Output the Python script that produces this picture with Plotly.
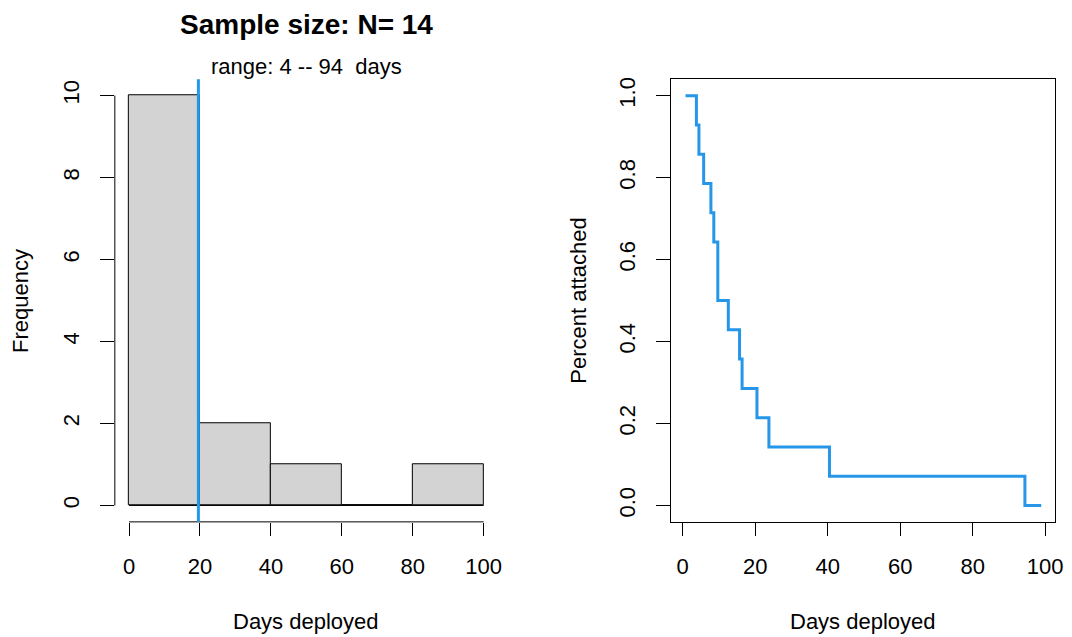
import numpy as np
import plotly.graph_objects as go

# ---- data ----
deploy_days = [3.8, 4.5, 5.8, 7.8, 8.6, 9.7, 9.7, 12.6, 15.7, 16.4, 20.5, 23.8, 40.5, 94.4]
curve_start = 0.8
curve_end = 98.9
bin_edges = [0, 20, 40, 60, 80, 100]
x_ticks = [0, 20, 40, 60, 80, 100]
hist_y_ticks = [0, 2, 4, 6, 8, 10]
surv_y_ticks = [0.0, 0.2, 0.4, 0.6, 0.8, 1.0]
surv_y_labels = ["0.0", "0.2", "0.4", "0.6", "0.8", "1.0"]

n = len(deploy_days)
counts, _ = np.histogram(deploy_days, bins=bin_edges)
mids = [(a + b) / 2 for a, b in zip(bin_edges[:-1], bin_edges[1:])]
mean_days = float(np.mean(deploy_days))

# survival curve
times = sorted(set(deploy_days))
surv = []
remaining = n
for t in times:
    remaining -= deploy_days.count(t)
    surv.append(remaining / n)
sx = [curve_start] + times + [curve_end]
sy = [1.0] + surv + [surv[-1]]

BLUE = "#2596E8"
FONT = "Liberation Sans, Arial, sans-serif"
FS = 22
W, H = 1072, 637

def px(x):
    return x / W

def py(y):
    return 1 - y / H

fig = go.Figure()
fig.add_trace(go.Bar(x=mids, y=counts, width=20, marker=dict(color="#D3D3D3", line=dict(color="black", width=1)),
                     xaxis="x", yaxis="y", showlegend=False))
fig.add_trace(go.Scatter(x=sx, y=sy, mode="lines", line=dict(color=BLUE, width=3, shape="hv"),
                         xaxis="x2", yaxis="y2", showlegend=False))

ydom = [py(521.5), py(77.5)]
common = dict(ticks="outside", tickcolor="black", tickwidth=1, showgrid=False, zeroline=False,
              tickfont=dict(family=FONT, size=FS, color="black"))
fig.update_layout(
    width=W, height=H, margin=dict(l=0, r=0, t=0, b=0),
    plot_bgcolor="white", paper_bgcolor="white",
    bargap=0,
    xaxis=dict(domain=[px(115.7), px(501.6)], range=[-4, 104], tickvals=x_ticks, ticklen=13,
               showline=False, anchor="y", ticklabelstandoff=12, **common),
    yaxis=dict(domain=ydom, range=[-0.4, 10.4], tickvals=hist_y_ticks, ticklen=14, tickangle=-90,
               showline=False, anchor="x", ticklabelstandoff=12, **common),
    xaxis2=dict(domain=[px(675.7), px(1063.3)], range=[-3.3, 102.8], tickvals=x_ticks, ticklen=13,
                showline=True, linecolor="black", linewidth=1, mirror=True, anchor="y2",
                ticklabelstandoff=12, **common),
    yaxis2=dict(domain=ydom, range=[-0.04, 1.04], tickvals=surv_y_ticks, ticktext=surv_y_labels, ticklen=14,
                tickangle=-90, showline=True, linecolor="black", linewidth=1, mirror=True, anchor="x2",
                ticklabelstandoff=12, **common),
)

# R-style axis lines for the histogram (span first to last tick)
fig.add_shape(type="line", xref="x", yref="y domain", x0=x_ticks[0], x1=x_ticks[-1], y0=0, y1=0,
              line=dict(color="black", width=1))
fig.add_shape(type="line", xref="x domain", yref="y", x0=0, x1=0, y0=hist_y_ticks[0], y1=hist_y_ticks[-1],
              line=dict(color="black", width=1))
# baseline for empty bins
fig.add_shape(type="line", xref="x", yref="y", x0=bin_edges[0], x1=bin_edges[-1], y0=0, y1=0,
              line=dict(color="black", width=1))
# mean line
fig.add_shape(type="line", xref="x", yref="y domain", x0=mean_days, x1=mean_days, y0=0, y1=1,
              line=dict(color=BLUE, width=3), layer="above")

ann = []
def add_text(text, x, y, size=FS, bold=False, angle=0):
    t = f"<b>{text}</b>" if bold else text
    ann.append(dict(text=t, x=px(x), y=py(y), xref="paper", yref="paper", showarrow=False,
                    xanchor="center", yanchor="middle", textangle=angle,
                    font=dict(family=FONT, size=size, color="black")))

add_text(f"Sample size: N= {n}", 308.7, 23, size=28, bold=True)
add_text(f"range: {round(min(deploy_days))} -- {round(max(deploy_days))} \u00a0days", 308.7, 65)
add_text("Days deployed", 308.7, 621)
add_text("Frequency", 20, 300, angle=-90)
add_text("Days deployed", 869.5, 621)
add_text("Percent attached", 582, 300, angle=-90)
fig.update_layout(annotations=ann)

fig.write_html("out.html", config={"displayModeBar": False},
               post_script="document.body.style.margin='0';document.body.style.overflow='hidden';")
